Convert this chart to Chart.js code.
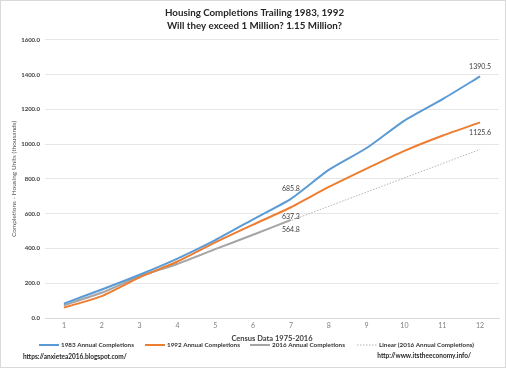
<!DOCTYPE html>
<html>
<head>
<meta charset="utf-8">
<script src="https://cdn.jsdelivr.net/npm/chart.js@4.4.1/dist/chart.umd.min.js"></script>
<style>
  html, body { margin: 0; padding: 0; background: #fff; }
  #wrap { position: relative; width: 504px; height: 366px; border: 1px solid #d9d9d9; }
  canvas { display: block; }
  .url { position: absolute; font: bold 6.5px Lato, sans-serif; color: #262626; }
</style>
</head>
<body>
<div id="wrap">
  <canvas id="chart" width="504" height="366"></canvas>
  <div class="url" style="left:22px; top:352px;">https://anxietea2016.blogspot.com/</div>
  <div class="url" style="right:34px; top:351px;">http://www.itstheeconomy.info/</div>
</div>
<script>
const periods = ['1', '2', '3', '4', '5', '6', '7', '8', '9', '10', '11', '12'];
const completions1983 = [83, 164, 249, 342, 448, 568, 685.8, 852, 978, 1136, 1258, 1390.5];
const completions1992 = [60, 126, 234, 325, 435, 537, 637.3, 754, 860, 962, 1049, 1125.6];
const completions2016 = [74, 145, 240, 311, 396, 479, 564.8, null, null, null, null, null];
// trend line: only the two ends, drawn straight between them
const linear2016 = [70, null, null, null, null, null, null, null, null, null, null, 970];
const yTicks = [0, 200, 400, 600, 800, 1000, 1200, 1400, 1600];

// value labels: [dataset index, point index, shown text, above?]
const pointLabels = [
  [0, 11, '1390.5', true],
  [1, 11, '1125.6', false],
  [0, 6, '685.8', true],
  [1, 6, '637.3', false],
  [2, 6, '564.8', false]
];

const labelPlugin = {
  id: 'pointLabels',
  afterDatasetsDraw(chart) {
    const ctx = chart.ctx;
    ctx.save();
    ctx.font = '7px Lato, sans-serif';
    ctx.fillStyle = '#404040';
    ctx.textAlign = 'center';
    ctx.textBaseline = 'middle';
    pointLabels.forEach(([ds, i, text, above]) => {
      const pt = chart.getDatasetMeta(ds).data[i];
      ctx.fillText(text, pt.x, above ? pt.y - 10 : pt.y + 10);
    });
    ctx.restore();
  }
};

// one-row legend under the axis title, built from the datasets
const legendStarts = [38, 144, 249, 356];
const legendRow = {
  id: 'legendRow',
  afterDraw(chart) {
    const ctx = chart.ctx;
    const y = 344;
    ctx.save();
    ctx.font = 'bold 6.3px Lato, sans-serif';
    ctx.textBaseline = 'middle';
    chart.data.datasets.forEach((d, i) => {
      const x = legendStarts[i];
      ctx.strokeStyle = d.borderColor;
      ctx.lineWidth = d.borderWidth;
      ctx.setLineDash(d.borderDash || []);
      ctx.beginPath();
      ctx.moveTo(x, y);
      ctx.lineTo(x + 20, y);
      ctx.stroke();
      ctx.fillStyle = '#333333';
      ctx.fillText(d.label, x + 22, y);
    });
    ctx.restore();
  }
};

const ctx = document.getElementById('chart').getContext('2d');
new Chart(ctx, {
  type: 'line',
  data: {
    labels: periods,
    datasets: [
      { label: '1983 Annual Completions', data: completions1983, borderColor: '#5b9bd5', backgroundColor: '#5b9bd5', borderWidth: 2 },
      { label: '1992 Annual Completions', data: completions1992, borderColor: '#ed7d31', backgroundColor: '#ed7d31', borderWidth: 2 },
      { label: '2016 Annual Completions', data: completions2016, borderColor: '#a5a5a5', backgroundColor: '#a5a5a5', borderWidth: 2 },
      { label: 'Linear (2016 Annual Completions)', data: linear2016, borderColor: '#b4b4b4', backgroundColor: '#b4b4b4', borderWidth: 1, borderDash: [1.5, 1.5], spanGaps: true }
    ]
  },
  options: {
    responsive: false,
    animation: false,
    elements: {
      point: { radius: 0 },
      line: { tension: 0.2, fill: false }
    },
    layout: { padding: { left: 9, right: 6, top: 5, bottom: 24 } },
    plugins: {
      title: {
        display: true,
        text: ['Housing Completions Trailing 1983, 1992', 'Will they exceed 1 Million? 1.15 Million?'],
        color: '#262626',
        font: { family: 'Lato, sans-serif', size: 9.75, weight: 'bold', lineHeight: 1.33 },
        padding: { top: 0, bottom: 8 }
      },
      legend: { display: false },
      tooltip: { enabled: false }
    },
    scales: {
      x: {
        offset: true,
        grid: { display: false, drawTicks: false },
        border: { color: '#d9d9d9' },
        ticks: { color: '#7f7f7f', font: { family: 'Lato, sans-serif', size: 7 }, padding: 4 },
        title: {
          display: true,
          text: 'Census Data 1975-2016',
          color: '#404040',
          font: { family: 'Lato, sans-serif', size: 7.5, weight: 'bold' },
          padding: { top: 0, bottom: 0 }
        },
        afterFit(scale) { scale.height = 25; }
      },
      y: {
        min: 0,
        max: 1600,
        afterBuildTicks(axis) { axis.ticks = yTicks.map(v => ({ value: v })); },
        grid: { color: '#e6e6e6', drawTicks: false },
        border: { display: false },
        ticks: {
          color: '#404040',
          font: { family: 'Lato, sans-serif', size: 6, weight: 'bold' },
          padding: 5,
          callback: v => v.toFixed(1)
        },
        title: {
          display: true,
          text: 'Completions - Housing Units (thousands)',
          color: '#595959',
          font: { family: 'Lato, sans-serif', size: 6.5 },
          padding: { top: 0, bottom: 2 }
        },
        afterFit(scale) { scale.width = 35; }
      }
    }
  },
  plugins: [labelPlugin, legendRow]
});
</script>
</body>
</html>
